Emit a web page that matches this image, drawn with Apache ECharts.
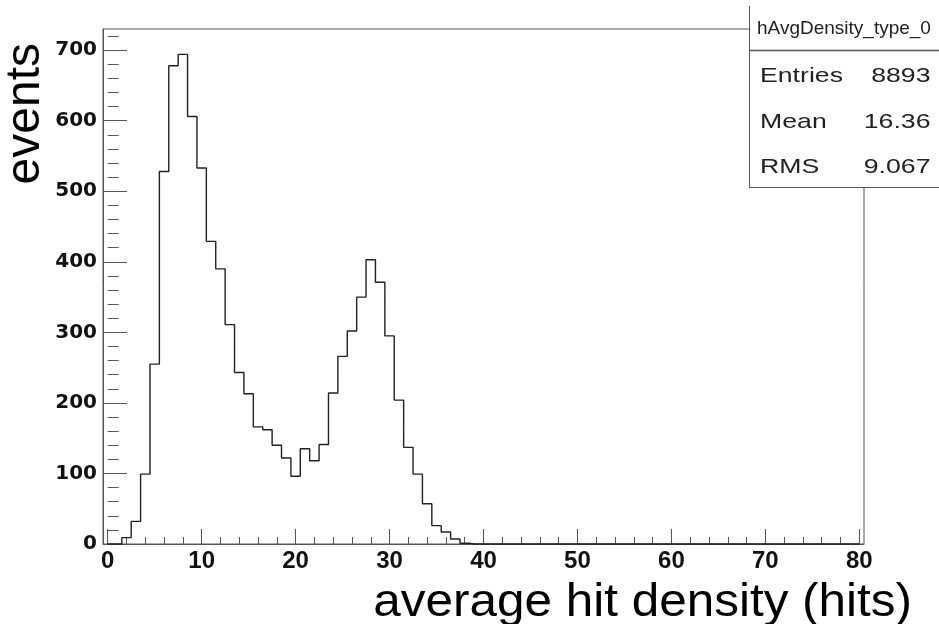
<!DOCTYPE html>
<html>
<head>
<meta charset="utf-8">
<script src="https://cdn.jsdelivr.net/npm/echarts@6/dist/echarts.min.js"></script>
<style>html,body{margin:0;padding:0;background:#fff}#c{width:939px;height:624px}</style>
</head>
<body>
<div id="c"></div>
<script>
// histogram bin counts, bins of width 1 centred on 0,1,2,...,80
const binCounts = [0, 0, 9, 32, 99, 255, 528, 678, 694, 606,
  533, 429, 390, 311, 243, 213, 166, 162, 140, 122,
  96, 135, 118, 141, 214, 266, 302, 350, 403, 371,
  295, 204, 137, 99, 57, 26, 17, 7, 1, 0,
  0, 0, 0, 0, 0, 0, 0, 0, 0, 0,
  0, 0, 0, 0, 0, 0, 0, 0, 0, 0,
  0, 0, 0, 0, 0, 0, 0, 0, 0, 0,
  0, 0, 0, 0, 0, 0, 0, 0, 0, 0,
  0];
const xMajorTicks = [0, 10, 20, 30, 40, 50, 60, 70, 80];
const xMinorTicks = [2, 4, 6, 8, 12, 14, 16, 18, 22, 24, 26, 28, 32, 34, 36, 38, 42, 44, 46, 48,
  52, 54, 56, 58, 62, 64, 66, 68, 72, 74, 76, 78];
const yMajorTicks = [0, 100, 200, 300, 400, 500, 600, 700];
const yMinorTicks = [20, 40, 60, 80, 120, 140, 160, 180, 220, 240, 260, 280, 320, 340, 360, 380,
  420, 440, 460, 480, 520, 540, 560, 580, 620, 640, 660, 680, 720];
const xTitle = 'average hit density (hits)';
const yTitle = 'events';
const statsTitle = 'hAvgDensity_type_0';
const statsLabels = ['Entries', 'Mean', 'RMS'];
const statsValues = ['8893', '16.36', '9.067'];

const axisColor = '#555';
const histData = binCounts.map((v, i) => [i, v]);

const chart = echarts.init(document.getElementById('c'), null, {renderer: 'canvas'});

const statsGraphics = [
  {type: 'rect', shape: {x: 749.5, y: 6, width: 200, height: 181}, style: {fill: '#fff'}, z: 100},
  {type: 'line', shape: {x1: 749.5, y1: 6, x2: 749.5, y2: 187.5}, style: {stroke: axisColor, lineWidth: 1}, z: 101},
  {type: 'line', shape: {x1: 749.5, y1: 187.5, x2: 940, y2: 187.5}, style: {stroke: axisColor, lineWidth: 1}, z: 101},
  {type: 'line', shape: {x1: 749.5, y1: 50.5, x2: 940, y2: 50.5}, style: {stroke: axisColor, lineWidth: 1.5}, z: 101},
  {type: 'text', x: 757, y: 28.5, z: 102,
   style: {text: statsTitle, fontFamily: 'Liberation Sans', fontSize: 19, fill: '#222', align: 'left', verticalAlign: 'middle'}}
];
const rowY = [76.5, 122, 167.5];
statsLabels.forEach((lab, i) => {
  statsGraphics.push({type: 'text', x: 760, y: rowY[i], scaleX: 1.27, z: 102,
    style: {text: lab, fontFamily: 'Liberation Sans', fontSize: 21, fill: '#222', align: 'left', verticalAlign: 'middle'}});
  statsGraphics.push({type: 'text', x: 930.5, y: rowY[i], scaleX: 1.27, z: 102,
    style: {text: statsValues[i], fontFamily: 'Liberation Sans', fontSize: 21, fill: '#222', align: 'right', verticalAlign: 'middle'}});
});

const option = {
  backgroundColor: '#fff',
  animation: false,
  grid: {left: 103, right: 75, top: 29, bottom: 80, show: true, borderColor: axisColor, borderWidth: 1, containLabel: false},
  xAxis: [
    {type: 'value', min: -0.5, max: 80.5, position: 'bottom',
     axisLine: {show: true, onZero: false, lineStyle: {color: axisColor, width: 1}},
     axisTick: {show: true, inside: true, length: 15, customValues: xMajorTicks, lineStyle: {color: axisColor, width: 1}},
     axisLabel: {show: true, customValues: xMajorTicks, margin: 5, fontFamily: 'Liberation Sans', fontWeight: 'bold', fontSize: 24, color: '#111'},
     splitLine: {show: false}},
    {type: 'value', min: -0.5, max: 80.5, position: 'bottom',
     axisLine: {show: false},
     axisTick: {show: true, inside: true, length: 7, customValues: xMinorTicks, lineStyle: {color: axisColor, width: 1}},
     axisLabel: {show: false},
     splitLine: {show: false}}
  ],
  yAxis: [
    {type: 'value', min: 0, max: 730, position: 'left',
     axisLine: {show: true, onZero: false, lineStyle: {color: axisColor, width: 1}},
     axisTick: {show: true, inside: true, length: 24, customValues: yMajorTicks, lineStyle: {color: axisColor, width: 1}},
     axisLabel: {show: true, customValues: yMajorTicks, margin: 6, fontFamily: 'DejaVu Sans', fontWeight: 'bold', fontSize: 20, color: '#111'},
     splitLine: {show: false}},
    {type: 'value', min: 0, max: 730, position: 'left',
     axisLine: {show: false},
     axisTick: {show: true, inside: true, length: 11, customValues: yMinorTicks, lineStyle: {color: axisColor, width: 1}},
     axisLabel: {show: false},
     splitLine: {show: false}}
  ],
  series: [{
    type: 'line', xAxisIndex: 0, yAxisIndex: 0, step: 'middle', symbol: 'none',
    data: histData, clip: false,
    lineStyle: {color: '#222', width: 1.4}, z: 5
  }],
  graphic: [
    {type: 'text', x: 912, y: 603, scaleX: 1.075,
     style: {text: xTitle, fontFamily: 'Liberation Sans', fontSize: 46, fill: '#000', align: 'right', verticalAlign: 'middle'}},
    {type: 'text', x: 26, y: 43, rotation: Math.PI / 2,
     style: {text: yTitle, fontFamily: 'Liberation Sans', fontSize: 48, fill: '#000', align: 'right', verticalAlign: 'middle'}}
  ].concat(statsGraphics)
};
chart.setOption(option);
</script>
</body>
</html>
